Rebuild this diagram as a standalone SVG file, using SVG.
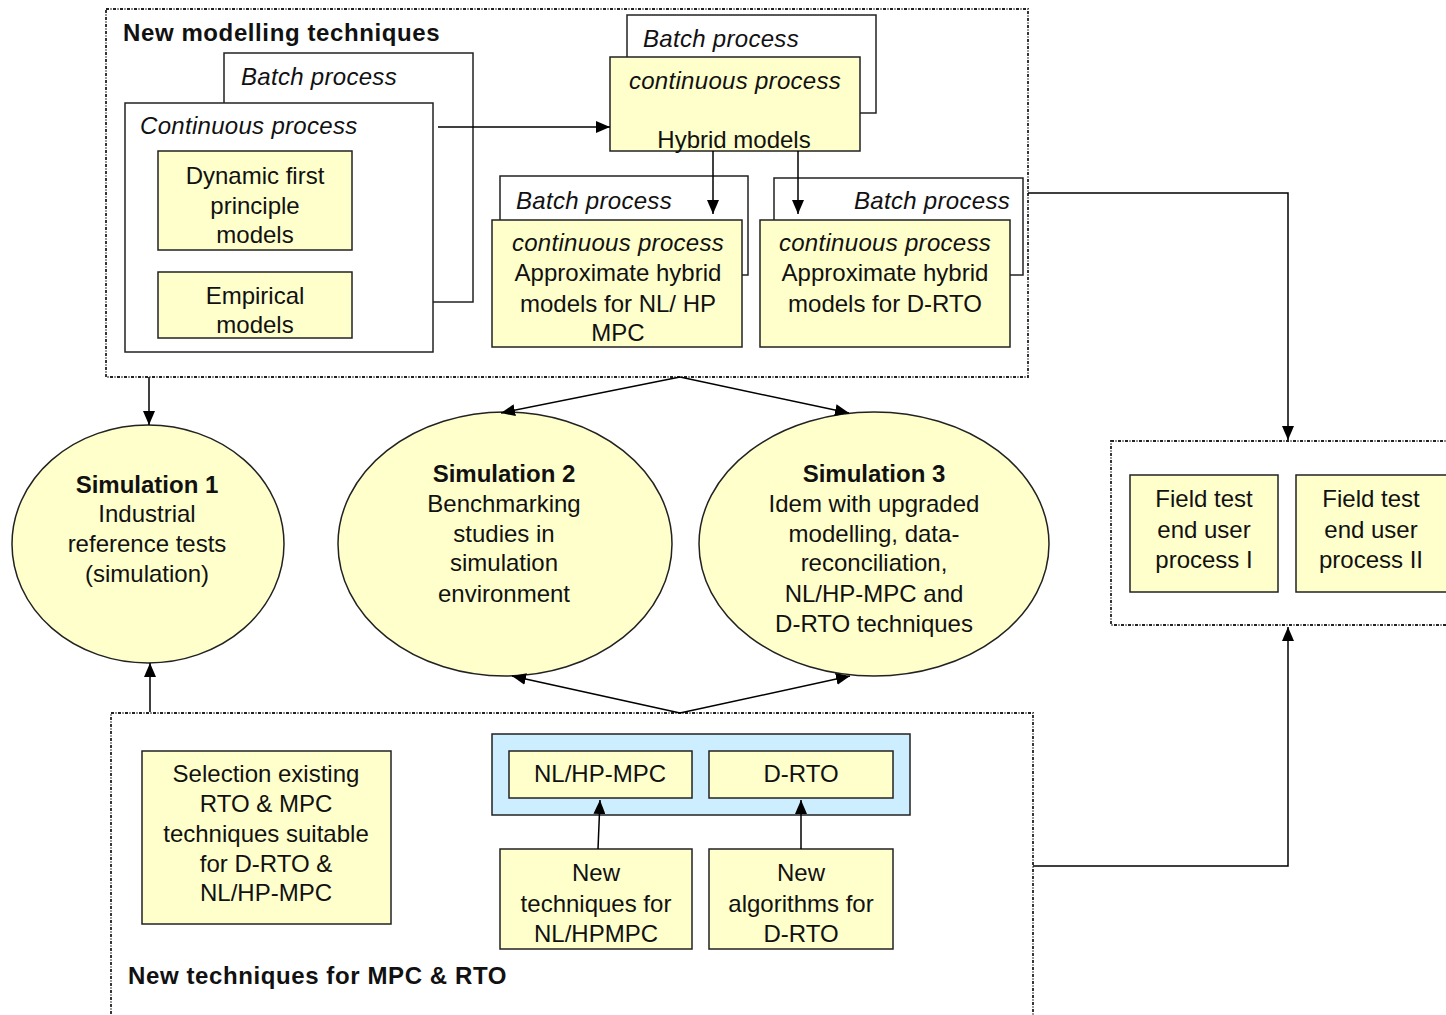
<svg xmlns="http://www.w3.org/2000/svg" width="1446" height="1015" viewBox="0 0 1446 1015">
  <defs>
    <marker id="arrow" viewBox="0 0 14 12" refX="14" refY="6" markerWidth="14" markerHeight="12" markerUnits="userSpaceOnUse" orient="auto">
      <path d="M0,0 L14,6 L0,12 Z" fill="#000"/>
    </marker>
    <style>
      text { font-family: "Liberation Sans", Arial, sans-serif; font-size: 24px; fill: #111; }
      .c { text-anchor: middle; }
      .i { font-style: italic; letter-spacing: 0.3px; }
      .b { font-weight: bold; }
      .title { letter-spacing: 0.6px; }
      .frame { fill: none; stroke: #222; stroke-width: 1.8; stroke-dasharray: 3 1.5 1 1.5; }
      .white { fill: #fff; stroke: #222; stroke-width: 1.5; }
      .yellow { fill: #ffffcc; stroke: #222; stroke-width: 1.5; }
      .blue { fill: #cceeff; stroke: #222; stroke-width: 1.5; }
      .link { fill: none; stroke: #000; stroke-width: 1.5; }
    </style>
  </defs>

  <rect width="1446" height="1015" fill="#fff"/>

  <!-- Modelling techniques block -->
  <g id="modelling">
    <rect class="frame" x="106" y="9" width="922" height="368"/>
    <text class="b title" x="123" y="41">New modelling techniques</text>
  </g>

  <g id="batch-left">
    <rect class="white" x="224" y="53" width="249" height="249"/>
    <text class="i" x="241" y="85">Batch process</text>
  </g>

  <g id="continuous-left">
    <rect class="white" x="125" y="103" width="308" height="249"/>
    <text class="i" x="140" y="134">Continuous process</text>
  </g>

  <g id="first-principle">
    <rect class="yellow" x="158" y="151" width="194" height="99"/>
    <text class="c" x="255" y="184">Dynamic first</text>
    <text class="c" x="255" y="214">principle</text>
    <text class="c" x="255" y="243">models</text>
  </g>

  <g id="empirical">
    <rect class="yellow" x="158" y="272" width="194" height="66"/>
    <text class="c" x="255" y="304">Empirical</text>
    <text class="c" x="255" y="333">models</text>
  </g>

  <g id="batch-top">
    <rect class="white" x="627" y="15" width="249" height="98"/>
    <text class="i" x="643" y="47">Batch process</text>
  </g>

  <g id="hybrid">
    <rect class="yellow" x="610" y="57" width="250" height="94"/>
    <text class="c i" x="735" y="89">continuous process</text>
    <text class="c" x="734" y="148">Hybrid models</text>
  </g>

  <g id="batch-mpc">
    <rect class="white" x="500" y="176" width="248" height="99"/>
    <text class="i" x="516" y="209">Batch process</text>
  </g>

  <g id="approx-mpc">
    <rect class="yellow" x="492" y="220" width="250" height="127"/>
    <text class="c i" x="618" y="251">continuous process</text>
    <text class="c" x="618" y="281">Approximate hybrid</text>
    <text class="c" x="618" y="312">models for NL/ HP</text>
    <text class="c" x="618" y="341">MPC</text>
  </g>

  <g id="batch-rto">
    <rect class="white" x="774" y="178" width="249" height="97"/>
    <text class="i" x="1010" y="209" text-anchor="end">Batch process</text>
  </g>

  <g id="approx-rto">
    <rect class="yellow" x="760" y="220" width="250" height="127"/>
    <text class="c i" x="885" y="251">continuous process</text>
    <text class="c" x="885" y="281">Approximate hybrid</text>
    <text class="c" x="885" y="312">models for D-RTO</text>
  </g>

  <!-- Simulations -->
  <g id="sim1">
    <ellipse class="yellow" cx="148" cy="544" rx="136" ry="119"/>
    <text class="c b" x="147" y="493">Simulation 1</text>
    <text class="c" x="147" y="522">Industrial</text>
    <text class="c" x="147" y="552">reference tests</text>
    <text class="c" x="147" y="582">(simulation)</text>
  </g>

  <g id="sim2">
    <ellipse class="yellow" cx="505" cy="544" rx="167" ry="132"/>
    <text class="c b" x="504" y="482">Simulation 2</text>
    <text class="c" x="504" y="512">Benchmarking</text>
    <text class="c" x="504" y="542">studies in</text>
    <text class="c" x="504" y="571">simulation</text>
    <text class="c" x="504" y="602">environment</text>
  </g>

  <g id="sim3">
    <ellipse class="yellow" cx="874" cy="544" rx="175" ry="132"/>
    <text class="c b" x="874" y="482">Simulation 3</text>
    <text class="c" x="874" y="512">Idem with upgraded</text>
    <text class="c" x="874" y="542">modelling, data-</text>
    <text class="c" x="874" y="571">reconciliation,</text>
    <text class="c" x="874" y="602">NL/HP-MPC and</text>
    <text class="c" x="874" y="632">D-RTO techniques</text>
  </g>

  <!-- Field tests -->
  <g id="field-tests">
    <rect class="frame" x="1111" y="441" width="345" height="184"/>
  </g>

  <g id="field-test-1">
    <rect class="yellow" x="1130" y="475" width="148" height="117"/>
    <text class="c" x="1204" y="507">Field test</text>
    <text class="c" x="1204" y="538">end user</text>
    <text class="c" x="1204" y="568">process I</text>
  </g>

  <g id="field-test-2">
    <rect class="yellow" x="1296" y="475" width="152" height="117"/>
    <text class="c" x="1371" y="507">Field test</text>
    <text class="c" x="1371" y="538">end user</text>
    <text class="c" x="1371" y="568">process II</text>
  </g>

  <!-- MPC and RTO techniques block -->
  <g id="mpc-rto">
    <rect class="frame" x="111" y="713" width="922" height="310"/>
    <text class="b title" x="128" y="984">New techniques for MPC &amp; RTO</text>
  </g>

  <g id="selection">
    <rect class="yellow" x="142" y="751" width="249" height="173"/>
    <text class="c" x="266" y="782">Selection existing</text>
    <text class="c" x="266" y="812">RTO &amp; MPC</text>
    <text class="c" x="266" y="842">techniques suitable</text>
    <text class="c" x="266" y="872">for D-RTO &amp;</text>
    <text class="c" x="266" y="901">NL/HP-MPC</text>
  </g>

  <g id="controllers">
    <rect class="blue" x="492" y="734" width="418" height="81"/>
  </g>

  <g id="nlhp-mpc">
    <rect class="yellow" x="509" y="751" width="183" height="47"/>
    <text class="c" x="600" y="782">NL/HP-MPC</text>
  </g>

  <g id="d-rto">
    <rect class="yellow" x="709" y="751" width="184" height="47"/>
    <text class="c" x="801" y="782">D-RTO</text>
  </g>

  <g id="new-techniques">
    <rect class="yellow" x="500" y="849" width="192" height="100"/>
    <text class="c" x="596" y="881">New</text>
    <text class="c" x="596" y="912">techniques for</text>
    <text class="c" x="596" y="942">NL/HPMPC</text>
  </g>

  <g id="new-algorithms">
    <rect class="yellow" x="709" y="849" width="184" height="100"/>
    <text class="c" x="801" y="881">New</text>
    <text class="c" x="801" y="912">algorithms for</text>
    <text class="c" x="801" y="942">D-RTO</text>
  </g>

  <!-- Connectors -->
  <g id="connectors">
    <path class="link" d="M438,127 H610" marker-end="url(#arrow)"/>
    <path class="link" d="M713,151 V214" marker-end="url(#arrow)"/>
    <path class="link" d="M798,151 V214" marker-end="url(#arrow)"/>
    <path class="link" d="M149,377 V425" marker-end="url(#arrow)"/>
    <path class="link" d="M150,712 V663" marker-end="url(#arrow)"/>
    <path class="link" d="M680,377 L501,413" marker-end="url(#arrow)"/>
    <path class="link" d="M680,377 L849,413" marker-end="url(#arrow)"/>
    <path class="link" d="M680,713 L512,676" marker-end="url(#arrow)"/>
    <path class="link" d="M680,713 L850,676" marker-end="url(#arrow)"/>
    <path class="link" d="M1028,193 H1288 V440" marker-end="url(#arrow)"/>
    <path class="link" d="M1033,866 H1288 V627" marker-end="url(#arrow)"/>
    <path class="link" d="M598,849 L600,800" marker-end="url(#arrow)"/>
    <path class="link" d="M801,849 V800" marker-end="url(#arrow)"/>
  </g>
</svg>
